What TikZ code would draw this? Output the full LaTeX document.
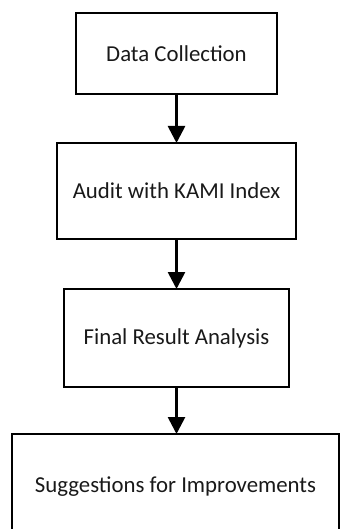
\documentclass[tikz,border=0pt]{standalone}
\usepackage{fontspec}
\setmainfont{Carlito}
\usetikzlibrary{arrows.meta}
\begin{document}
\begin{tikzpicture}[x=1bp,y=-1bp,
  box/.style={draw=black,line width=2.7bp,rectangle,outer sep=0pt,inner sep=0pt,
    font=\fontsize{22.8bp}{27bp}\selectfont,text=black!90},
  flow/.style={line width=2.7bp,-{Triangle[width=17bp,length=17bp]}}]
\useasboundingbox (0,0) rectangle (343,529);
\clip (0,0) rectangle (343,529);
\node[box,minimum width=201bp,minimum height=81bp] (b1) at (176.5,53.5) {Data Collection};
\node[box,minimum width=239bp,minimum height=96bp] (b2) at (176.5,191) {Audit with KAMI Index};
\node[box,minimum width=225bp,minimum height=98bp] (b3) at (176.5,338) {Final Result Analysis};
\node[box,minimum width=327bp,minimum height=106bp] (b4) at (175.5,487) {Suggestions for Improvements};
\draw[flow] (b1.south) -- (b2.north);
\draw[flow] (b2.south) -- (b3.north);
\draw[flow] (b3.south) -- (b3.south |- b4.north);
\end{tikzpicture}
\end{document}
